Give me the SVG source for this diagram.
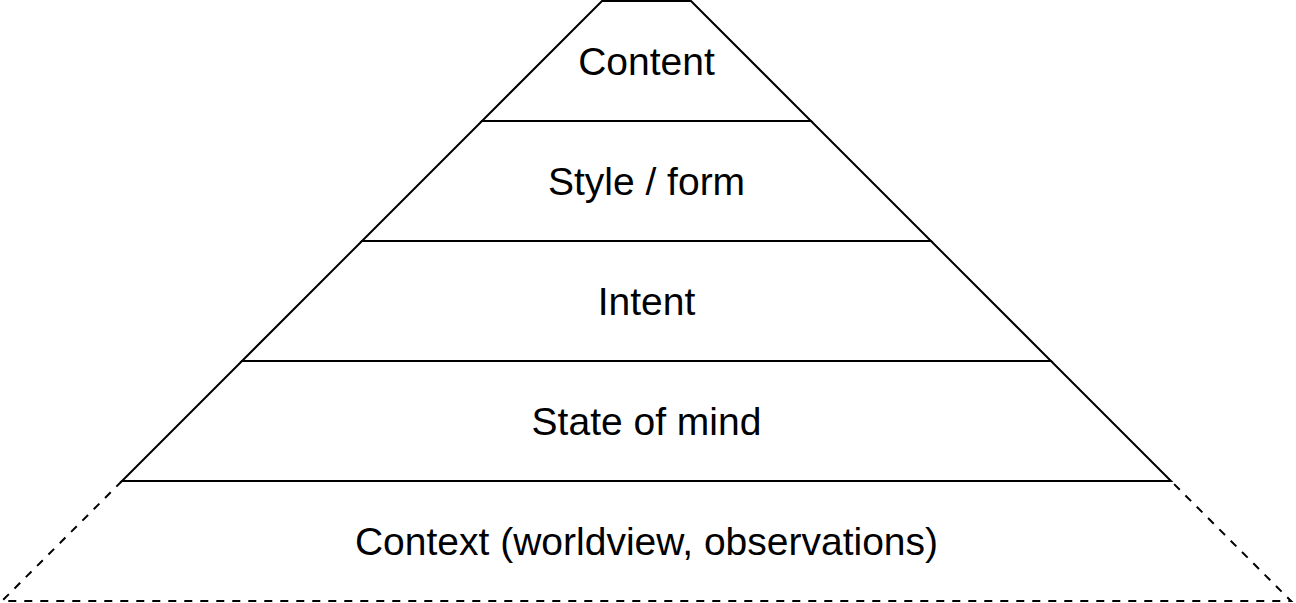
<svg xmlns="http://www.w3.org/2000/svg" width="1296" height="603" viewBox="0 0 1296 603">
<style>
.s{fill:#fff;stroke:#000;stroke-width:2;stroke-linejoin:miter}
.d{fill:none;stroke:#000;stroke-width:2;stroke-dasharray:8 8}
.t{font-family:"Liberation Sans",Arial,Helvetica,sans-serif;font-size:39px;fill:#000;text-anchor:middle}
</style>
<rect width="1296" height="603" fill="#fff"/>
<g id="context">
<polygon points="122,481 1171,481 1291,601 2,601" fill="#fff" stroke="none"/>
<path class="d" d="M122,481 L2,601 L1291,601 L1171,481"/>
<text class="t" x="646.5" y="555">Context (worldview, observations)</text>
</g>
<g id="state-of-mind">
<polygon class="s" points="242,361 1051,361 1171,481 122,481"/>
<text class="t" x="646.5" y="435">State of mind</text>
</g>
<g id="intent">
<polygon class="s" points="362,241 931,241 1051,361 242,361"/>
<text class="t" x="646.5" y="315">Intent</text>
</g>
<g id="style-form">
<polygon class="s" points="482,121 811,121 931,241 362,241"/>
<text class="t" x="646.5" y="195">Style / form</text>
</g>
<g id="content">
<polygon class="s" points="602,1 691,1 811,121 482,121"/>
<text class="t" x="646.5" y="75">Content</text>
</g>
<g id="connectors"/>
</svg>
